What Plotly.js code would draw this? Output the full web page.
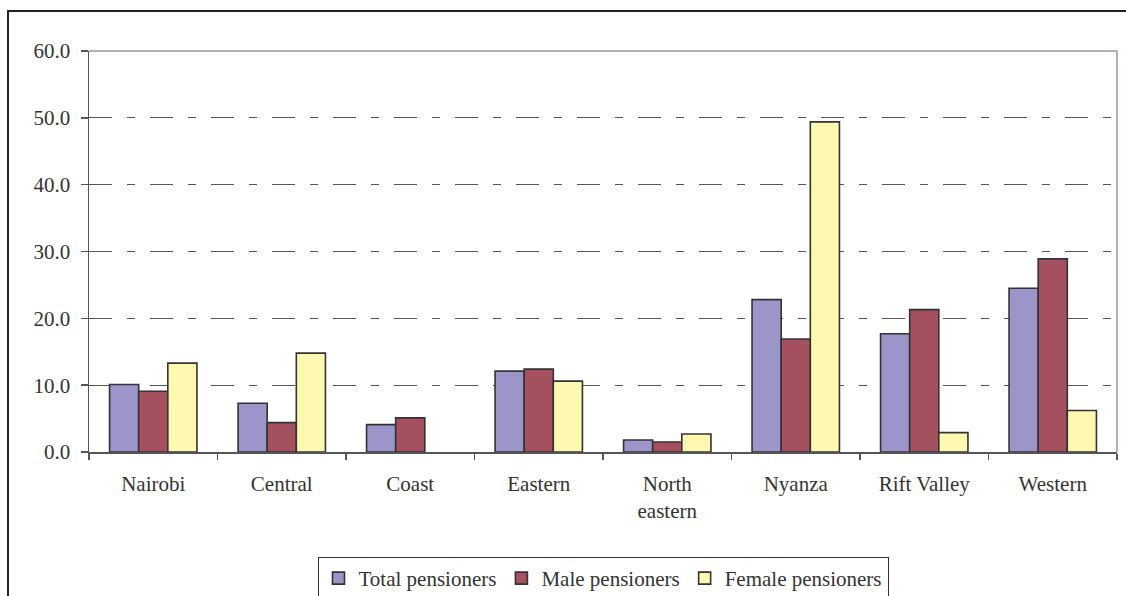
<!DOCTYPE html>
<html>
<head>
<meta charset="utf-8">
<script src="https://cdn.plot.ly/plotly-3.0.1.min.js"></script>
<style>
html,body{margin:0;padding:0;background:#fff;}
#chart{width:1126px;height:596px;}
</style>
</head>
<body>
<div id="chart"></div>
<script>
const categories = ["Nairobi", "Central", "Coast", "Eastern", "North<br>eastern", "Nyanza", "Rift Valley", "Western"];
const seriesNames = ["Total pensioners", "Male pensioners", "Female pensioners"];
const totalPensioners = [10.1, 7.3, 4.1, 12.1, 1.8, 22.8, 17.7, 24.5];
const malePensioners = [9.1, 4.4, 5.1, 12.4, 1.5, 16.9, 21.3, 28.9];
const femalePensioners = [13.3, 14.8, null, 10.6, 2.7, 49.4, 2.9, 6.2];
const yTicks = [0, 10, 20, 30, 40, 50, 60];

const colors = ["#9b95c9", "#a5505f", "#fff8b0"];
const seriesValues = [totalPensioners, malePensioners, femalePensioners];

const traces = seriesValues.map((vals, i) => ({
  type: "bar",
  name: seriesNames[i],
  x: categories,
  y: vals,
  marker: { color: colors[i], line: { color: "#333333", width: 1.6 } },
  hoverinfo: "x+y+name"
}));

const W = 1126, H = 596;
const ml = 89, mr = 9, mt = 51, mb = 144;
const pw = W - ml - mr, ph = H - mt - mb;
const px2x = p => (p - ml) / pw;
const py2y = p => (H - mb - p) / ph;

const FONT = "Liberation Serif";
const FS = 21;

const layout = {
  width: W, height: H,
  margin: { l: ml, r: mr, t: mt, b: mb },
  paper_bgcolor: "#ffffff",
  plot_bgcolor: "#ffffff",
  font: { family: FONT, size: FS, color: "#333333" },
  barmode: "group",
  bargap: 0.32,
  bargroupgap: 0,
  showlegend: true,
  legend: {
    orientation: "h",
    xref: "paper", yref: "container",
    x: 0.5, xanchor: "center",
    y: (H - 557) / H, yanchor: "top",
    bordercolor: "#333333", borderwidth: 1,
    font: { family: FONT, size: FS, color: "#333333" },
    traceorder: "normal",
    itemwidth: 30,
    tracegroupgap: 0
  },
  xaxis: {
    type: "category",
    showgrid: false,
    showline: true, linecolor: "#555555", linewidth: 1.5,
    ticks: "outside", ticklen: 6, tickcolor: "#555555", tickwidth: 1.5,
    tickson: "boundaries",
    ticklabelstandoff: 12,
    tickfont: { family: FONT, size: FS, color: "#333333" },
    fixedrange: true
  },
  yaxis: {
    range: [0, 60],
    tickvals: yTicks,
    tickformat: ".1f",
    showgrid: true, gridcolor: "#555555", gridwidth: 1.2,
    griddash: "23px,15px,8px,15px",
    showline: true, linecolor: "#555555", linewidth: 1.5,
    ticks: "outside", ticklen: 7, tickcolor: "#555555", tickwidth: 1.5,
    ticklabelstandoff: 6,
    tickfont: { family: FONT, size: FS, color: "#333333" },
    zeroline: false,
    fixedrange: true
  },
  shapes: [
    { type: "line", xref: "paper", yref: "paper", x0: 0, x1: 1, y0: 1, y1: 1,
      line: { color: "#a39490", width: 1.5 } },
    { type: "line", xref: "paper", yref: "paper", x0: 1, x1: 1, y0: 0, y1: 1,
      line: { color: "#a39490", width: 1.5 } },
    { type: "rect", xref: "paper", yref: "paper",
      x0: px2x(8), x1: px2x(1140), y0: py2y(11), y1: py2y(620),
      line: { color: "#222222", width: 2 } }
  ]
};

Plotly.newPlot("chart", traces, layout, { displayModeBar: false, staticPlot: true });
</script>
</body>
</html>
